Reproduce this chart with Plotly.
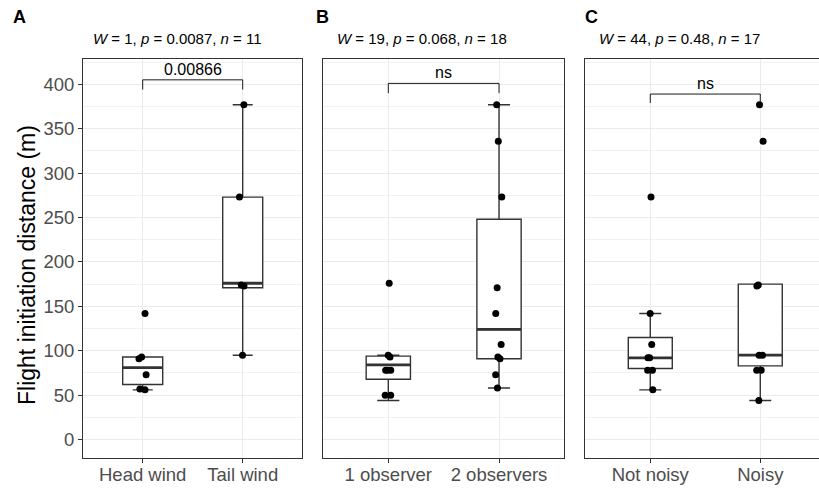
import plotly.graph_objects as go

# ---------------- data ----------------
cats_A = ["Head wind", "Tail wind"]
cats_B = ["1 observer", "2 observers"]
cats_C = ["Not noisy", "Noisy"]

# individual observations (flight initiation distance, m)
A_head = [56, 57, 73, 91, 93, 142]
A_tail = [95, 173, 174, 273, 377]
B_one = [50, 50, 78, 78, 78, 93, 95, 176]
B_two = [58, 73, 91, 93, 107, 142, 171, 273, 336, 377]
C_not = [56, 78, 78, 92, 92, 107, 142, 273]
C_noisy = [44, 78, 78, 95, 95, 173, 174, 336, 377]

# box statistics as drawn
A_q1 = [62, 171]; A_med = [81, 176]; A_q3 = [93, 273]; A_lo = [56, 95]; A_hi = [93, 377]
B_q1 = [68, 91]; B_med = [84, 124]; B_q3 = [94, 248]; B_lo = [44, 58]; B_hi = [95, 377]
C_q1 = [80, 83]; C_med = [92, 95]; C_q3 = [115, 175]; C_lo = [56, 44]; C_hi = [142, 175]

# comparison brackets: (foot, top) and label
A_bracket = [394, 405]; A_label = "0.00866"
B_bracket = [390, 401]; B_label = "ns"
C_bracket = [379, 389]; C_label = "ns"

subtitles = ["<i>W</i> = 1, <i>p</i> = 0.0087, <i>n</i> = 11",
             "<i>W</i> = 19, <i>p</i> = 0.068, <i>n</i> = 18",
             "<i>W</i> = 44, <i>p</i> = 0.48, <i>n</i> = 17"]
panel_letters = ["A", "B", "C"]
y_ticks = [0, 50, 100, 150, 200, 250, 300, 350, 400]
y_title = "Flight initiation distance (m)"

# ---------------- layout helpers ----------------
W, H = 819, 488
FONT = "Liberation Sans, Arial, sans-serif"
def fx(p): return p / W
def fy(p): return 1 - p / H

panels = [
    dict(cats=cats_A, pts=[A_head, A_tail], q1=A_q1, med=A_med, q3=A_q3, lo=A_lo, hi=A_hi,
         br=A_bracket, bl=A_label, xdom=(83, 302), xr=[-0.597, 1.593], letter_x=11, sub_x=91),
    dict(cats=cats_B, pts=[B_one, B_two], q1=B_q1, med=B_med, q3=B_q3, lo=B_lo, hi=B_hi,
         br=B_bracket, bl=B_label, xdom=(323, 564), xr=[-0.59, 1.587], letter_x=314, sub_x=335),
    dict(cats=cats_C, pts=[C_not, C_noisy], q1=C_q1, med=C_med, q3=C_q3, lo=C_lo, hi=C_hi,
         br=C_bracket, bl=C_label, xdom=(584.5, 819), xr=[-0.598, 1.534], letter_x=583, sub_x=597),
]

ydom = [fy(457.7), fy(58.7)]
yrange = [-20.4, 428.8]
BOXC = "#333333"
GRID = "#EBEBEB"

fig = go.Figure()
annotations = []
layout_axes = {}

for i, p in enumerate(panels):
    n = "" if i == 0 else str(i + 1)
    xa, ya = "x" + n, "y" + n
    # box
    fig.add_trace(go.Box(
        x=p["cats"], q1=p["q1"], median=p["med"], q3=p["q3"],
        lowerfence=p["lo"], upperfence=p["hi"],
        width=0.4, whiskerwidth=0.5, fillcolor="white",
        line=dict(color=BOXC, width=1.4), boxpoints=False,
        xaxis=xa, yaxis=ya, showlegend=False, hoverinfo="skip"))
    # thicker median line
    fig.add_trace(go.Box(
        x=p["cats"], q1=p["med"], median=p["med"], q3=p["med"],
        lowerfence=p["med"], upperfence=p["med"],
        width=0.4, whiskerwidth=0, fillcolor="rgba(0,0,0,0)",
        line=dict(color=BOXC, width=2.8), boxpoints=False,
        xaxis=xa, yaxis=ya, showlegend=False, hoverinfo="skip"))
    # points
    xs, ys = [], []
    for c, vals in zip(p["cats"], p["pts"]):
        xs += [c] * len(vals)
        ys += vals
    fig.add_trace(go.Box(
        x=xs, y=ys, boxpoints="all", jitter=0.22, pointpos=0, width=0.4,
        fillcolor="rgba(0,0,0,0)", line=dict(color="rgba(0,0,0,0)", width=0),
        marker=dict(color="black", size=7),
        xaxis=xa, yaxis=ya, showlegend=False))
    # bracket
    c1, c2 = p["cats"]
    foot, top = p["br"]
    fig.add_trace(go.Scatter(
        x=[c1, c1, c2, c2], y=[foot, top, top, foot], mode="lines",
        line=dict(color="black", width=0.9), xaxis=xa, yaxis=ya,
        showlegend=False, hoverinfo="skip"))
    annotations.append(dict(
        x=0.5, y=top, xref=xa, yref=ya, text=p["bl"], showarrow=False,
        yanchor="bottom", yshift=0, font=dict(family=FONT, size=16, color="black")))
    # subtitle and panel letter
    annotations.append(dict(
        x=fx(p["sub_x"]), y=fy(38), xref="paper", yref="paper", text=subtitles[i],
        showarrow=False, xanchor="left", yanchor="middle",
        font=dict(family=FONT, size=15, color="black")))
    annotations.append(dict(
        x=fx(p["letter_x"]), y=fy(17), xref="paper", yref="paper",
        text="<b>" + panel_letters[i] + "</b>", showarrow=False,
        xanchor="left", yanchor="middle", font=dict(family=FONT, size=18, color="black")))

    layout_axes["xaxis" + n] = dict(
        domain=[fx(p["xdom"][0]), fx(p["xdom"][1])], anchor=ya, type="category",
        range=p["xr"], showgrid=True, gridcolor=GRID, gridwidth=1,
        showline=True, linecolor=BOXC, linewidth=1, mirror=True,
        ticks="outside", ticklen=4, tickcolor=BOXC, tickwidth=1,
        ticklabelstandoff=-4,
        tickfont=dict(family=FONT, size=18.5, color="#4D4D4D"),
        zeroline=False, fixedrange=True)
    layout_axes["yaxis" + n] = dict(
        domain=ydom, anchor=xa, range=yrange, tickvals=y_ticks,
        showticklabels=(i == 0), ticks="outside" if i == 0 else "",
        ticklen=4, tickcolor=BOXC, tickwidth=1,
        tickfont=dict(family=FONT, size=18.5, color="#4D4D4D"),
        showgrid=True, gridcolor=GRID, gridwidth=1,
        minor=dict(showgrid=True, gridcolor="#F2F2F2", gridwidth=0.6, dtick=25, tick0=0),
        showline=True, linecolor=BOXC, linewidth=1, mirror=(i < 2),
        zeroline=False, fixedrange=True)

annotations.append(dict(
    x=fx(27), y=fy(265), xref="paper", yref="paper", text=y_title, textangle=-90,
    showarrow=False, xanchor="center", yanchor="middle",
    font=dict(family=FONT, size=23, color="black")))

fig.update_layout(
    width=W, height=H, margin=dict(l=0, r=0, t=0, b=0),
    paper_bgcolor="white", plot_bgcolor="white",
    boxmode="overlay", showlegend=False, annotations=annotations,
    font=dict(family=FONT), **layout_axes)

fig.write_html("out.html")
